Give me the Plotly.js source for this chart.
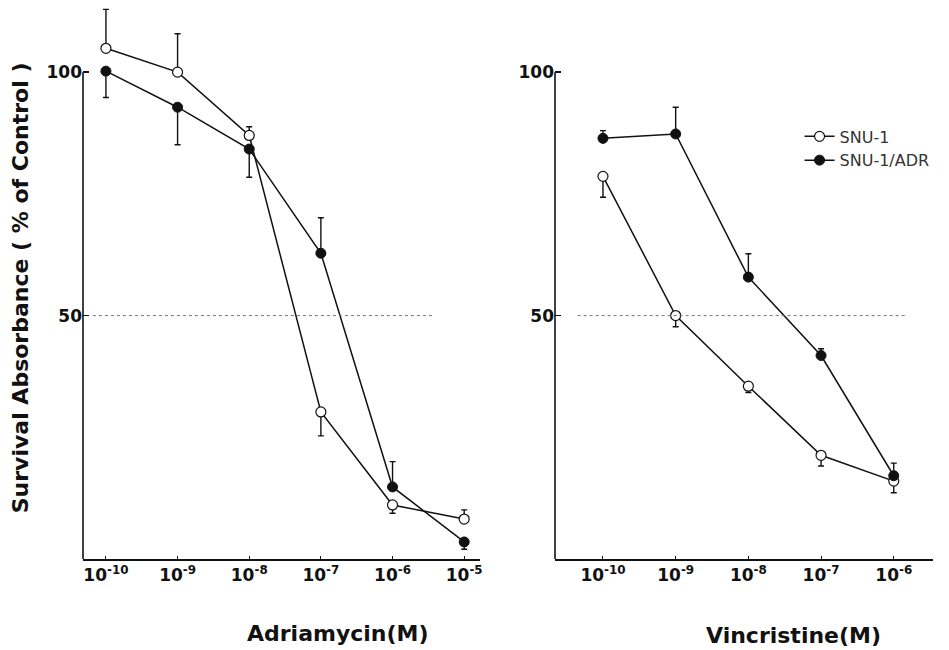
<!DOCTYPE html>
<html>
<head>
<meta charset="utf-8">
<script src="https://cdn.plot.ly/plotly-3.0.1.min.js"></script>
<style>html,body{margin:0;padding:0;background:#fff;}#chart{width:949px;height:650px;}</style>
</head>
<body>
<div id="chart"></div>
<script>
// Concentrations (M)
const adrConc = [1e-10, 1e-9, 1e-8, 1e-7, 1e-6, 1e-5];
const vcrConc = [1e-10, 1e-9, 1e-8, 1e-7, 1e-6];

// Adriamycin panel
const adrSnu1 = [104.9, 100.0, 87.0, 30.2, 11.1, 8.2];
const adrSnu1ErrUp = [8.0, 7.9, 1.8, 0, 0, 1.9];
const adrSnu1ErrDown = [0, 0, 0, 4.9, 1.7, 0];
const adrSnu1Adr = [100.2, 92.8, 84.2, 62.8, 14.8, 3.5];
const adrSnu1AdrErrUp = [0, 0, 0, 7.3, 5.2, 0];
const adrSnu1AdrErrDown = [5.4, 7.7, 5.8, 0, 0, 1.5];

// Vincristine panel
const vcrSnu1 = [78.6, 50.0, 35.5, 21.3, 16.0];
const vcrSnu1ErrUp = [0, 0, 0, 0, 0];
const vcrSnu1ErrDown = [4.3, 2.3, 1.3, 2.2, 2.4];
const vcrSnu1Adr = [86.4, 87.3, 57.9, 41.8, 17.1];
const vcrSnu1AdrErrUp = [1.6, 5.5, 4.8, 1.4, 2.6];
const vcrSnu1AdrErrDown = [0, 0, 0, 0, 0];

const tickVals = [1e-10, 1e-9, 1e-8, 1e-7, 1e-6, 1e-5];
const tickText = ['10<sup>-10</sup>', '10<sup>-9</sup>', '10<sup>-8</sup>', '10<sup>-7</sup>', '10<sup>-6</sup>', '10<sup>-5</sup>'];
const yTickVals = [50, 100];
const yTickText = ['50', '100'];

const seriesNames = ['SNU-1', 'SNU-1/ADR'];

function err(up, down) {
  return {type: 'data', symmetric: false, array: up, arrayminus: down,
          color: '#111', thickness: 1.4, width: 3};
}
const openMarker = {symbol: 'circle', size: 10, color: '#fff', line: {color: '#111', width: 1.2}};
const filledMarker = {symbol: 'circle', size: 10, color: '#111', line: {color: '#111', width: 1}};
const lineStyle = {color: '#111', width: 1.5};

const traces = [
  {x: adrConc, y: adrSnu1, xaxis: 'x', yaxis: 'y', mode: 'lines+markers', name: seriesNames[0],
   marker: openMarker, line: lineStyle, error_y: err(adrSnu1ErrUp, adrSnu1ErrDown), showlegend: false, cliponaxis: false},
  {x: adrConc, y: adrSnu1Adr, xaxis: 'x', yaxis: 'y', mode: 'lines+markers', name: seriesNames[1],
   marker: filledMarker, line: lineStyle, error_y: err(adrSnu1AdrErrUp, adrSnu1AdrErrDown), showlegend: false, cliponaxis: false},
  {x: vcrConc, y: vcrSnu1, xaxis: 'x2', yaxis: 'y2', mode: 'lines+markers', name: seriesNames[0],
   marker: openMarker, line: lineStyle, error_y: err(vcrSnu1ErrUp, vcrSnu1ErrDown), showlegend: true, cliponaxis: false},
  {x: vcrConc, y: vcrSnu1Adr, xaxis: 'x2', yaxis: 'y2', mode: 'lines+markers', name: seriesNames[1],
   marker: filledMarker, line: lineStyle, error_y: err(vcrSnu1AdrErrUp, vcrSnu1AdrErrDown), showlegend: true, cliponaxis: false}
];

const boldFamily = 'DejaVu Sans, Liberation Sans, Arial, sans-serif';
const xTickFont = {family: 'DejaVu Sans, sans-serif', size: 17, color: '#111', weight: 'bold'};
const yTickFont = {family: boldFamily, size: 17, color: '#111', weight: 'bold'};

function xAxis(domain, range, anchor) {
  return {domain: domain, type: 'log', range: range, anchor: anchor,
          showline: true, linecolor: '#111', linewidth: 1.6, showgrid: false, zeroline: false,
          tickmode: 'array', tickvals: tickVals, ticktext: tickText,
          ticks: 'inside', ticklen: 3, tickcolor: '#111', tickfont: xTickFont};
}
function yAxis(anchor) {
  return {range: [0, 114], anchor: anchor, showline: false, showgrid: false, zeroline: false,
          tickmode: 'array', tickvals: yTickVals, ticktext: yTickText,
          ticks: 'inside', ticklen: 6, tickwidth: 1.4, tickcolor: '#111', tickfont: yTickFont};
}

const layout = {
  width: 949, height: 650,
  margin: {l: 83, r: 16, t: 4, b: 91},
  paper_bgcolor: '#fff', plot_bgcolor: '#fff',
  xaxis: xAxis([0, 0.467], [-10.32, -4.78], 'y'),
  yaxis: yAxis('x'),
  xaxis2: xAxis([0.5553, 1], [-10.66, -5.46], 'y2'),
  yaxis2: yAxis('x2'),
  showlegend: true,
  legend: {x: 0.843, y: 0.792, xanchor: 'left', yanchor: 'top', bgcolor: 'rgba(0,0,0,0)',
           font: {family: 'DejaVu Sans, sans-serif', size: 16, color: '#333'},
           itemwidth: 30, tracegroupgap: 4},
  shapes: [
    {type: 'line', xref: 'x domain', yref: 'y', x0: 0, x1: 0, y0: 0, y1: 100, line: {color: '#111', width: 1.6}},
    {type: 'line', xref: 'x2 domain', yref: 'y2', x0: 0, x1: 0, y0: 0, y1: 100, line: {color: '#111', width: 1.6}},
    {type: 'line', xref: 'x domain', yref: 'y', x0: 0.025, x1: 0.88, y0: 50, y1: 50, line: {color: '#777', width: 1, dash: 'dot'}},
    {type: 'line', xref: 'x2 domain', yref: 'y2', x0: 0.06, x1: 0.926, y0: 50, y1: 50, line: {color: '#777', width: 1, dash: 'dot'}}
  ],
  annotations: [
    {text: 'Survival Absorbance ( % of Control )', xref: 'paper', yref: 'paper', x: -0.074, y: 0.488,
     textangle: -90, showarrow: false, xanchor: 'center', yanchor: 'middle',
     font: {family: boldFamily, size: 22, color: '#111', weight: 'bold'}},
    {text: 'Adriamycin(M)', xref: 'paper', yref: 'paper', x: (338 - 83) / 850, y: -(633 - 559) / 555,
     showarrow: false, xanchor: 'center', yanchor: 'middle',
     font: {family: boldFamily, size: 22, color: '#111', weight: 'bold'}},
    {text: 'Vincristine(M)', xref: 'paper', yref: 'paper', x: (793 - 83) / 850, y: -(635 - 559) / 555,
     showarrow: false, xanchor: 'center', yanchor: 'middle',
     font: {family: boldFamily, size: 22, color: '#111', weight: 'bold'}}
  ]
};

Plotly.newPlot('chart', traces, layout, {staticPlot: true, displayModeBar: false});
</script>
</body>
</html>
